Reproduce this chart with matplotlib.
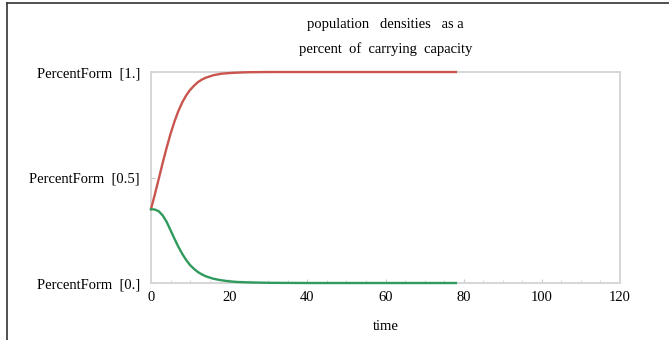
import matplotlib.pyplot as plt
from matplotlib.lines import Line2D
from matplotlib.ticker import MultipleLocator

# population densities (fraction of carrying capacity) over time
time = [0, 1, 2, 3, 4, 5, 6, 7, 8, 9, 10, 11, 12, 13, 14, 16, 18, 20, 22, 25, 30, 40, 50, 60, 70, 78]
prey = [0.35, 0.421, 0.495, 0.570, 0.641, 0.707, 0.765, 0.815, 0.856, 0.889, 0.915, 0.935,
        0.952, 0.964, 0.973, 0.985, 0.992, 0.995, 0.997, 0.999, 1.0, 1.0, 1.0, 1.0, 1.0, 1.0]
pred = [0.35, 0.348, 0.34, 0.32, 0.29, 0.25, 0.21, 0.172, 0.138, 0.109, 0.085, 0.067,
        0.052, 0.041, 0.032, 0.02, 0.013, 0.008, 0.005, 0.003, 0.001, 0.0, 0.0, 0.0, 0.0, 0.0]

xticks = [0, 20, 40, 60, 80, 100, 120]
yticks = [0, 0.5, 1]
ylabels = ["PercentForm  [0.]", "PercentForm  [0.5]", "PercentForm  [1.]"]

plt.rcParams['font.family'] = ['Liberation Serif', 'DejaVu Serif']

fig = plt.figure(figsize=(6.69, 3.40), dpi=100)
ax = fig.add_axes([0.2257, 0.1676, 0.7011, 0.6206])

ax.plot(time, prey, color='#c9554e', lw=1.7, clip_on=False, zorder=5)
ax.plot(time, pred, color='#2f9a5c', lw=1.7, clip_on=False, zorder=5)

ax.set_xlim(0, 120)
ax.set_ylim(0, 1)
ax.set_xticks(xticks)
ax.set_xticklabels([str(t) for t in xticks])
ax.set_yticks(yticks)
ax.set_yticklabels(ylabels)
ax.xaxis.set_minor_locator(MultipleLocator(5))
ax.tick_params(axis='both', which='major', direction='in', length=3, color='#c8c8c8',
               labelsize=10.5, pad=6)
ax.tick_params(axis='x', which='minor', direction='in', length=2, color='#d0d0d0')
ax.tick_params(axis='y', pad=8)

for s in ax.spines.values():
    s.set_color('#d6d6d6')
    s.set_linewidth(1.4)

ax.set_xlabel('time', fontsize=10.5, labelpad=11)
ax.set_title('population   densities   as a\npercent  of  carrying  capacity',
             fontsize=10.5, linespacing=2.0, pad=14)

# thin dark frame lines on the top and left of the figure
fig.add_artist(Line2D([0.0105, 0.0105], [0, 0.991], transform=fig.transFigure,
                      color='#333333', lw=1.2))
fig.add_artist(Line2D([0.0105, 1], [0.991, 0.991], transform=fig.transFigure,
                      color='#333333', lw=1.2))

fig.savefig('out.png', dpi=100)
